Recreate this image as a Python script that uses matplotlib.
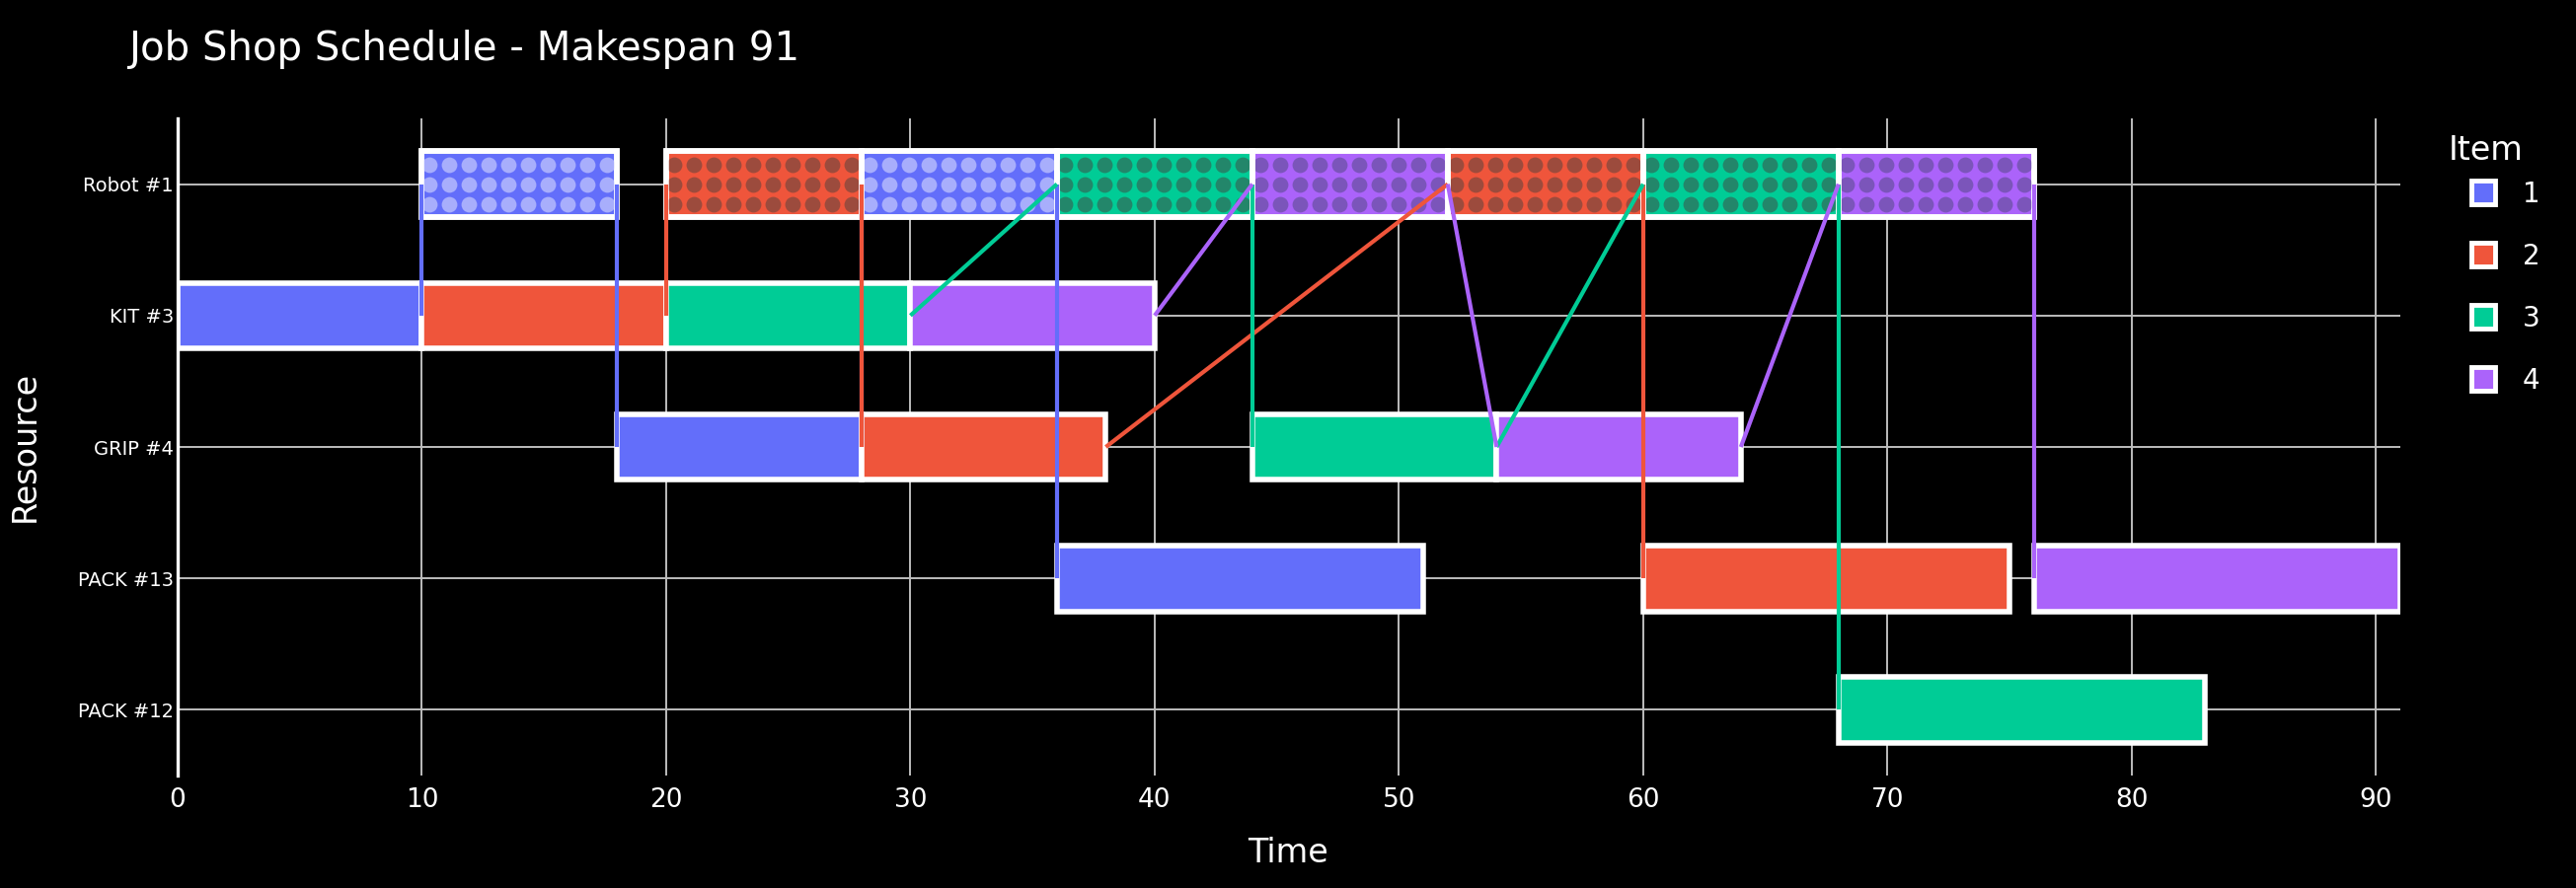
import matplotlib
matplotlib.use("Agg")
import matplotlib.pyplot as plt
from matplotlib.lines import Line2D
from matplotlib.patches import Rectangle
import numpy as np

# data
resources = ["Robot #1", "KIT #3", "GRIP #4", "PACK #13", "PACK #12"]
items = ["1", "2", "3", "4"]
item_colors = ["#636EFA", "#EF553B", "#00CC96", "#AB63FA"]
dot_colors = ["#A8AEFC", "#9C4B3D", "#23866A", "#7B55BA"]
patterned = "Robot #1"

# route of each item: resource, start, finish (in processing order)
item1_res = ["KIT #3", "Robot #1", "GRIP #4", "Robot #1", "PACK #13"]
item1_start = [0, 10, 18, 28, 36]
item1_end = [10, 18, 28, 36, 51]

item2_res = ["KIT #3", "Robot #1", "GRIP #4", "Robot #1", "PACK #13"]
item2_start = [10, 20, 28, 52, 60]
item2_end = [20, 28, 38, 60, 75]

item3_res = ["KIT #3", "Robot #1", "GRIP #4", "Robot #1", "PACK #12"]
item3_start = [20, 36, 44, 60, 68]
item3_end = [30, 44, 54, 68, 83]

item4_res = ["KIT #3", "Robot #1", "GRIP #4", "Robot #1", "PACK #13"]
item4_start = [30, 44, 54, 68, 76]
item4_end = [40, 52, 64, 76, 91]

routes = [
    (item1_res, item1_start, item1_end),
    (item2_res, item2_start, item2_end),
    (item3_res, item3_start, item3_end),
    (item4_res, item4_start, item4_end),
]
makespan = max(max(r[2]) for r in routes)

W, H = 2610, 900
fig = plt.figure(figsize=(W / 100, H / 100), dpi=100, facecolor="black")
ax = fig.add_axes([180 / W, 1 - 786 / H, (2432 - 180) / W, (786 - 120) / H])
ax.set_facecolor("black")

ypos = {r: i for i, r in enumerate(resources)}
ax.set_xlim(0, makespan)
ax.set_ylim(len(resources) - 0.5, -0.5)

# pixel size of one data unit, for the dot pattern
px_x = ax.transData.transform((1, 0))[0] - ax.transData.transform((0, 0))[0]
px_y = abs(ax.transData.transform((0, 1))[1] - ax.transData.transform((0, 0))[1])
pitch = 20
bar_h = 0.5

for k, (res, st, en) in enumerate(routes):
    col = item_colors[k]
    for r, s, e in zip(res, st, en):
        y = ypos[r]
        rect = Rectangle((s, y - bar_h / 2), e - s, bar_h, facecolor=col,
                         edgecolor="white", linewidth=4, zorder=3)
        ax.add_patch(rect)
        if r == patterned:
            xs = np.arange(s + 0.4 * pitch / px_x, e, pitch / px_x)
            ys = y + np.array([-1, 0, 1]) * pitch / px_y
            gx, gy = np.meshgrid(xs, ys)
            clip = Rectangle((s, y - bar_h / 2), e - s, bar_h, transform=ax.transData)
            sc = ax.scatter(gx.ravel(), gy.ravel(), s=130, color=dot_colors[k],
                            linewidths=0, zorder=4)
            sc.set_clip_path(clip)
            ax.add_patch(Rectangle((s, y - bar_h / 2), e - s, bar_h, facecolor="none",
                                   edgecolor="white", linewidth=4, zorder=5))
    # precedence links
    for j in range(len(res) - 1):
        ax.plot([en[j], st[j + 1]], [ypos[res[j]], ypos[res[j + 1]]],
                color=col, linewidth=3, zorder=6, solid_capstyle="butt")

ax.set_yticks(range(len(resources)))
ax.set_yticklabels(resources)
ax.set_xticks(np.arange(0, makespan + 1, 10))
ax.tick_params(axis="x", colors="white", labelsize=19, length=0, pad=9)
ax.tick_params(axis="y", colors="white", labelsize=14, length=0, pad=3)
ax.grid(True, color="#bdbdbd", linewidth=1.4, zorder=0)
ax.set_axisbelow(True)
for side in ["top", "right", "bottom"]:
    ax.spines[side].set_visible(False)
ax.spines["left"].set_color("white")
ax.spines["left"].set_linewidth(2.4)
ax.spines["left"].set_zorder(7)

fig.text(1305 / W, 1 - 864 / H, "Time", color="white", fontsize=24, ha="center", va="center")
fig.text(25 / W, 1 - 452 / H, "Resource", color="white", fontsize=24, ha="center",
         va="center", rotation=90)
fig.text(130 / W, 1 - 61 / H, "Job Shop Schedule - Makespan 91", color="white",
         fontsize=29, ha="left", va="baseline")

# legend
fig.text(2481 / W, 1 - 152 / H, "Item", color="white", fontsize=24, ha="left", va="center")
handles = [Line2D([], [], marker="s", linestyle="none", markersize=17,
                  markerfacecolor=c, markeredgecolor="white", markeredgewidth=3.5)
           for c in item_colors]
leg = fig.legend(handles, items, loc="upper left",
                 bbox_to_anchor=(2477 / W, 1 - 158 / H), frameon=False,
                 fontsize=20, labelcolor="white", labelspacing=1.26,
                 handlelength=1.0, handletextpad=0.94)

plt.savefig("out.png", dpi=100, facecolor="black")
